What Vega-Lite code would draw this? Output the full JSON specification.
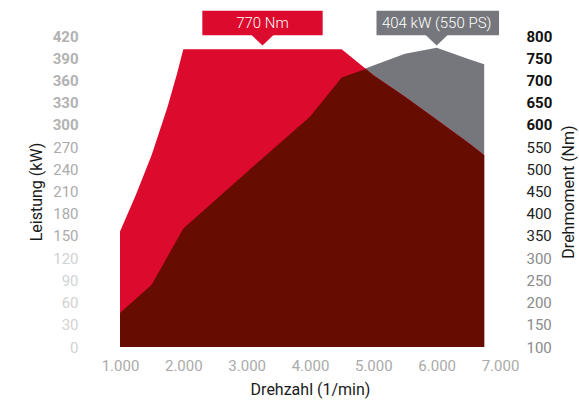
{
  "$schema": "https://vega.github.io/schema/vega-lite/v6.json",
  "width": 380,
  "height": 311,
  "autosize": {"type": "none"},
  "padding": {"left": 120, "top": 36, "right": 79, "bottom": 55},
  "config": {
    "view": {"stroke": null},
    "font": "Roboto",
    "axis": {"domain": false, "ticks": false, "grid": false, "titleFontWeight": "normal", "titleColor": "#1a1a1a", "titleFontSize": 16, "labelFontSize": 15},
    "axisX": {
      "values": [1000, 2000, 3000, 4000, 5000, 6000, 7000],
      "labelExpr": "replace(format(datum.value, ','), ',', '.')",
      "labelFlush": false, "labelColor": "#aaaaaa", "labelPadding": 11, "titlePadding": 8
    }
  },
  "datasets": {
    "power": [
      {"rpm": 1000, "kW": 46}, {"rpm": 1500, "kW": 84}, {"rpm": 2000, "kW": 160},
      {"rpm": 3000, "kW": 236}, {"rpm": 4000, "kW": 311}, {"rpm": 4500, "kW": 364},
      {"rpm": 5000, "kW": 380}, {"rpm": 5500, "kW": 396}, {"rpm": 6000, "kW": 404},
      {"rpm": 6500, "kW": 389}, {"rpm": 6750, "kW": 382}
    ],
    "torque": [
      {"rpm": 1000, "Nm": 360}, {"rpm": 1250, "Nm": 442}, {"rpm": 1500, "Nm": 532},
      {"rpm": 1750, "Nm": 640}, {"rpm": 1900, "Nm": 715}, {"rpm": 2000, "Nm": 770}, {"rpm": 3000, "Nm": 770},
      {"rpm": 4000, "Nm": 770}, {"rpm": 4500, "Nm": 770}, {"rpm": 5000, "Nm": 712},
      {"rpm": 5500, "Nm": 663}, {"rpm": 6000, "Nm": 612}, {"rpm": 6500, "Nm": 560},
      {"rpm": 6750, "Nm": 532}
    ],
    "overlap": [
      {"rpm": 1000, "kW": 46}, {"rpm": 1500, "kW": 84}, {"rpm": 2000, "kW": 160},
      {"rpm": 3000, "kW": 236}, {"rpm": 4000, "kW": 311}, {"rpm": 4500, "kW": 364},
      {"rpm": 4880, "kW": 375.5}, {"rpm": 5000, "kW": 367}, {"rpm": 5500, "kW": 338},
      {"rpm": 6000, "kW": 307}, {"rpm": 6500, "kW": 276}, {"rpm": 6750, "kW": 259}
    ],
    "callouts": [
      {"label": "770 Nm", "kind": "Drehmoment", "at": 3250, "from": 2300, "to": 4200},
      {"label": "404 kW (550 PS)", "kind": "Leistung", "at": 6000, "from": 5050, "to": 6985}
    ]
  },
  "layer": [
    {
      "data": {"name": "power"},
      "mark": {"type": "area", "color": "#76777c"},
      "encoding": {
        "x": {"field": "rpm", "type": "quantitative", "title": "Drehzahl (1/min)", "scale": {"domain": [1000, 7000], "nice": false}},
        "y": {
          "field": "kW", "type": "quantitative",
          "scale": {"domain": [0, 420], "nice": false},
          "axis": {
            "orient": "left",
            "values": [0, 30, 60, 90, 120, 150, 180, 210, 240, 270, 300, 330, 360, 390, 420],
            "labelPadding": 42,
            "labelColor": {"condition": [{"test": "datum.value >= 300", "value": "#b2b2b2"}, {"test": "datum.value >= 150", "value": "#ababab"}], "value": "#d2d2d2"},
            "labelFontWeight": {"condition": {"test": "datum.value >= 300", "value": "bold"}, "value": "normal"},
            "title": "Leistung (kW)", "titlePadding": 8
          }
        }
      }
    },
    {
      "data": {"name": "torque"},
      "mark": {"type": "area", "color": "#dc0a2c"},
      "encoding": {
        "x": {"field": "rpm", "type": "quantitative", "title": "Drehzahl (1/min)", "scale": {"domain": [1000, 7000], "nice": false}},
        "y": {
          "field": "Nm", "type": "quantitative",
          "scale": {"domain": [100, 800], "zero": false, "nice": false},
          "axis": {
            "orient": "right",
            "values": [100, 150, 200, 250, 300, 350, 400, 450, 500, 550, 600, 650, 700, 750, 800],
            "labelPadding": 26,
            "labelColor": {"condition": [{"test": "datum.value >= 600", "value": "#111111"}, {"test": "datum.value >= 350", "value": "#222222"}], "value": "#8a8a8a"},
            "labelFontWeight": {"condition": {"test": "datum.value >= 600", "value": "bold"}, "value": "normal"},
            "title": "Drehmoment (Nm)", "titleAngle": 270, "titleBaseline": "top", "titlePadding": 9
          }
        },
        "y2": {"datum": 100}
      }
    },
    {
      "data": {"name": "overlap"},
      "mark": {"type": "area", "color": "#660c00"},
      "encoding": {
        "x": {"field": "rpm", "type": "quantitative", "title": "Drehzahl (1/min)", "scale": {"domain": [1000, 7000], "nice": false}},
        "y": {"field": "kW", "type": "quantitative", "scale": {"domain": [0, 420], "nice": false}, "axis": null}
      }
    },
    {
      "data": {"name": "callouts"},
      "mark": {"type": "rect"},
      "encoding": {
        "x": {"field": "from", "type": "quantitative", "title": "Drehzahl (1/min)", "scale": {"domain": [1000, 7000], "nice": false}},
        "x2": {"field": "to"},
        "y": {"datum": 454, "type": "quantitative", "scale": {"domain": [0, 420], "nice": false}, "axis": null},
        "y2": {"datum": 421},
        "color": {"field": "kind", "type": "nominal", "scale": {"domain": ["Drehmoment", "Leistung"], "range": ["#dc0a2c", "#76777c"]}, "legend": null}
      }
    },
    {
      "data": {"name": "callouts"},
      "mark": {"type": "point", "shape": "M-1,0L1,0L0,0.95Z", "filled": true, "opacity": 1, "size": 484},
      "encoding": {
        "x": {"field": "at", "type": "quantitative", "title": "Drehzahl (1/min)", "scale": {"domain": [1000, 7000], "nice": false}},
        "y": {"datum": 421.3, "type": "quantitative", "scale": {"domain": [0, 420], "nice": false}, "axis": null},
        "color": {"field": "kind", "type": "nominal", "scale": {"domain": ["Drehmoment", "Leistung"], "range": ["#dc0a2c", "#76777c"]}, "legend": null}
      }
    },
    {
      "data": {"name": "callouts"},
      "mark": {"type": "text", "color": "white", "fontSize": 15, "fontWeight": 300, "baseline": "middle", "align": "center", "font": "Roboto"},
      "encoding": {
        "x": {"field": "at", "type": "quantitative", "title": "Drehzahl (1/min)", "scale": {"domain": [1000, 7000], "nice": false}},
        "y": {"datum": 437.5, "type": "quantitative", "scale": {"domain": [0, 420], "nice": false}, "axis": null},
        "text": {"field": "label"}
      }
    }
  ],
  "resolve": {"scale": {"y": "independent", "color": "shared"}}
}
